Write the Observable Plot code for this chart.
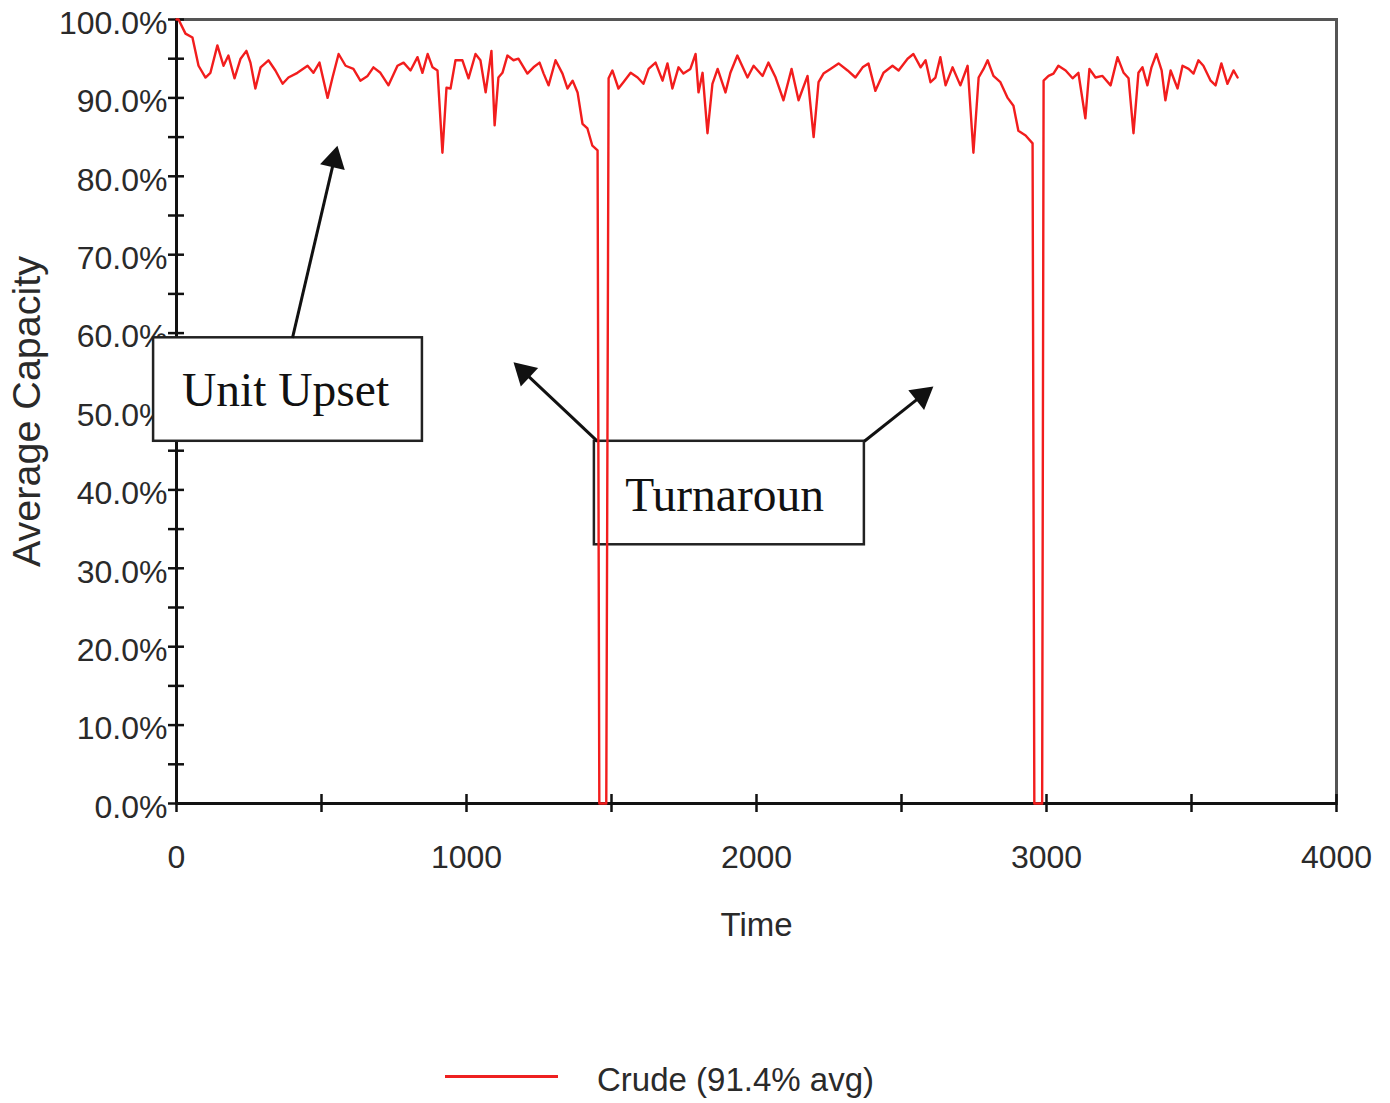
<!DOCTYPE html>
<html>
<head>
<meta charset="utf-8">
<script src="https://cdn.jsdelivr.net/npm/d3@7"></script>
<script src="https://cdn.jsdelivr.net/npm/@observablehq/plot@0.6"></script>
<style>
  html, body { margin: 0; padding: 0; background: #fff; }
  #wrap { position: relative; width: 1390px; height: 1103px; }
  #legend-line { position: absolute; left: 445px; top: 1075px; width: 113px; height: 3px; background: #ee2020; }
  #legend-text { position: absolute; left: 597px; top: 1061px; font: 33px "Liberation Sans", Arial, sans-serif; color: #2a2a2a; white-space: nowrap; }
</style>
</head>
<body>
<div id="wrap">
  <div id="chart"></div>
  <div id="legend-line"></div>
  <div id="legend-text">Crude (91.4% avg)</div>
</div>
<script>
// ---- data ----
const times = [0,7,31,55,76,100,117,141,162,179,200,221,241,255,272,290,317,341,366,386,417,452,472,493,521,538,559,583,610,634,659,679,703,731,762,783,807,831,848,866,883,900,917,931,945,962,986,1007,1031,1048,1066,1086,1097,1110,1124,1141,1162,1179,1210,1231,1252,1266,1283,1307,1331,1348,1366,1383,1400,1417,1434,1452,1458,1482,1490,1503,1524,1541,1566,1590,1610,1628,1652,1676,1693,1710,1731,1748,1772,1790,1800,1814,1831,1848,1866,1893,1910,1934,1969,1990,2021,2041,2066,2093,2121,2145,2176,2197,2214,2231,2255,2283,2314,2341,2366,2386,2410,2438,2469,2490,2521,2541,2566,2583,2600,2617,2634,2652,2676,2703,2728,2748,2766,2783,2797,2817,2841,2866,2886,2903,2928,2952,2958,2985,2990,3007,3024,3041,3066,3090,3110,3134,3148,3169,3193,3221,3245,3266,3283,3300,3317,3331,3348,3362,3379,3397,3410,3428,3452,3469,3490,3507,3524,3541,3566,3583,3603,3624,3645,3659];
const crude = [100,100,98.2,97.7,94.1,92.6,93.2,96.7,94.1,95.4,92.5,95.0,96.0,94.5,91.2,93.9,94.8,93.5,91.8,92.6,93.2,94.1,93.2,94.5,90.0,92.6,95.6,94.1,93.7,92.2,92.8,93.9,93.2,91.6,94.1,94.5,93.5,95.2,93.2,95.6,93.9,93.5,83.0,91.3,91.2,94.8,94.8,92.5,95.6,94.8,90.7,96.0,86.5,92.6,93.2,95.4,94.8,95.0,93.1,93.9,94.5,93.1,91.6,94.8,93.1,91.2,92.2,90.7,86.7,86.1,83.9,83.3,0,0,92.5,93.5,91.2,92.0,93.2,92.6,91.8,93.7,94.5,92.2,94.4,91.2,93.9,93.1,93.7,95.6,90.7,93.2,85.5,91.8,93.7,90.7,93.2,95.4,92.6,94.1,92.8,94.5,92.6,89.7,93.7,89.7,92.8,85.0,92.0,93.1,93.7,94.4,93.5,92.6,93.9,94.4,90.9,93.2,94.1,93.5,95.0,95.6,93.9,94.8,92.0,92.6,95.2,91.6,93.9,91.6,94.1,83.0,92.6,93.7,94.8,92.8,92.0,90.0,89.0,85.8,85.2,84.2,0,0,92.2,92.8,93.1,94.1,93.5,92.5,93.2,87.4,93.7,92.6,92.8,91.6,95.2,93.2,92.5,85.5,93.2,93.9,91.6,93.9,95.6,93.5,89.7,93.5,91.2,94.1,93.7,93.1,94.8,94.1,92.2,91.6,94.4,91.8,93.5,92.6];
const yMajor = [0,10,20,30,40,50,60,70,80,90,100];
const yMinor = [5,15,25,35,45,55,65,75,85,95];
const xMajor = [0,1000,2000,3000,4000];
const xMinor = [500,1500,2500,3500];
const xTickLabels = ["0","1000","2000","3000","4000"];
const yTickLabels = ["0.0%","10.0%","20.0%","30.0%","40.0%","50.0%","60.0%","70.0%","80.0%","90.0%","100.0%"];
// annotations (data units)
const boxLabels = ["Unit Upset", "Turnaroun"];
const boxX1 = [-79, 1441], boxX2 = [848, 2372];
const boxY1 = [46.2, 33.0], boxY2 = [59.4, 46.2];
const boxTextX = [376, 1890], boxTextY = [52.7, 39.3];
const arrowX1 = [400, 1452, 2372], arrowY1 = [59.4, 46.2, 46.2];
const arrowX2 = [555, 1162, 2610], arrowY2 = [83.9, 56.3, 53.2];

// ---- layout ----
const W = 1390, H = 960;
const mL = 176, mR = 54, mT = 19, mB = 157;
const pxPerX = (W - mL - mR) / 4000;
const pxPerY = (H - mT - mB) / 100;

const series = times.map((t, i) => ({t, v: crude[i]}));
const boxes = boxLabels.map((s, i) => ({s, x1: boxX1[i], x2: boxX2[i], y1: boxY1[i], y2: boxY2[i], tx: boxTextX[i], ty: boxTextY[i]}));
const headLen = 22, headR = 9.4;
const arrows = arrowX1.map((x1, i) => {
  const dxp = (arrowX2[i] - x1) * pxPerX, dyp = -(arrowY2[i] - arrowY1[i]) * pxPerY;
  const L = Math.hypot(dxp, dyp), ux = dxp / L, uy = dyp / L;
  const back = headLen * 2 / 3;
  return {
    x1, y1: arrowY1[i],
    sx: arrowX2[i] - ux * (headLen - 2) / pxPerX, sy: arrowY2[i] + uy * (headLen - 2) / pxPerY,
    hx: arrowX2[i] - ux * back / pxPerX, hy: arrowY2[i] + uy * back / pxPerY,
    rot: Math.atan2(ux, -uy) * 180 / Math.PI
  };
});
const tlx = 8 / pxPerX, tly = 9 / pxPerY;

const chart = Plot.plot({
  width: W, height: H,
  marginLeft: mL, marginRight: mR, marginTop: mT, marginBottom: mB,
  style: {fontFamily: "'Liberation Sans', Arial, sans-serif", fontSize: "32px", color: "#2a2a2a", background: "#fff"},
  x: {domain: [0, 4000]},
  y: {domain: [0, 100]},
  marks: [
    Plot.frame({stroke: "#555", strokeWidth: 3}),
    Plot.axisY({ticks: yMajor, tickSize: 0, tickPadding: 9, tickFormat: d => yTickLabels[yMajor.indexOf(d)], fontSize: 32, label: null, dy: 4}),
    Plot.axisX({ticks: xMajor, tickSize: 0, tickPadding: 42, tickFormat: d => xTickLabels[xMajor.indexOf(d)], fontSize: 32, label: null}),
    Plot.ruleY(yMajor.concat(yMinor), {y: d => d, x1: -tlx, x2: tlx, stroke: "#111", strokeWidth: 2.5}),
    Plot.ruleX(xMajor.concat(xMinor), {x: d => d, y1: -tly, y2: tly, stroke: "#111", strokeWidth: 2.5}),
    Plot.ruleX([0], {stroke: "#111", strokeWidth: 3}),
    Plot.ruleY([0], {stroke: "#111", strokeWidth: 3}),
    Plot.text(["Average Capacity"], {text: d => d, frameAnchor: "left", textAnchor: "middle", lineAnchor: "middle", dx: -149, rotate: -90, fontSize: 39.5}),
    Plot.text(["Time"], {text: d => d, frameAnchor: "bottom", textAnchor: "middle", lineAnchor: "middle", dy: 122, fontSize: 33}),
    Plot.rect(boxes, {x1: "x1", x2: "x2", y1: "y1", y2: "y2", fill: "#fff", stroke: "#222", strokeWidth: 2.5}),
    Plot.text(boxes, {x: "tx", y: "ty", text: "s", fontFamily: "'Liberation Serif', serif", fontSize: 47.5, fill: "#111"}),
    Plot.link(arrows, {x1: "x1", y1: "y1", x2: "sx", y2: "sy", stroke: "#111", strokeWidth: 3}),
    Plot.dot(arrows, {x: "hx", y: "hy", symbol: "triangle", r: headR, rotate: "rot", fill: "#111", stroke: "none"}),
    Plot.line(series, {x: "t", y: "v", stroke: "#f21d1d", strokeWidth: 2.4})
  ]
});
document.getElementById("chart").appendChild(chart);
</script>
</body>
</html>
